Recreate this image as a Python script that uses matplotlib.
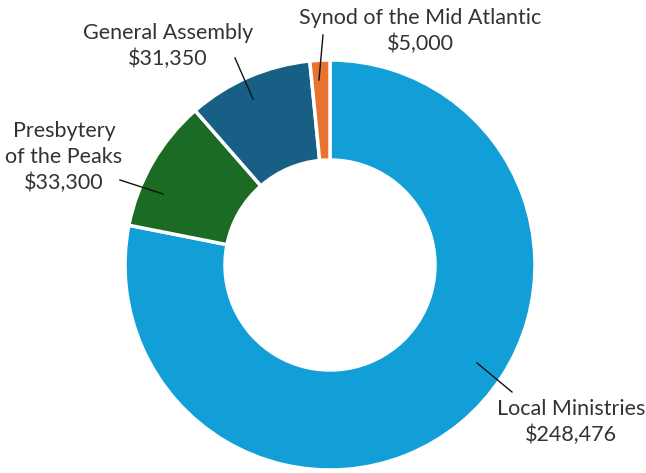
import matplotlib.pyplot as plt

# donation data
categories = ['Local Ministries', 'Presbytery\nof the Peaks', 'General Assembly', 'Synod of the Mid Atlantic']
amounts = [248476, 33300, 31350, 5000]
colors = ['#129fd7', '#1c6b25', '#175f85', '#e8722f']

plt.rcParams['font.family'] = ['Lato', 'DejaVu Sans']

fig = plt.figure(figsize=(6.46, 4.73), dpi=100)
ax = fig.add_axes([0, 0, 1, 1])

cx, cy, r = 330, 473 - 265, 205
ax.pie(amounts, colors=colors, startangle=90, counterclock=False,
       center=(cx, cy), radius=r, frame=True,
       wedgeprops=dict(width=100, edgecolor='white', linewidth=2.5))
ax.set_xlim(0, 646)
ax.set_ylim(0, 473)
ax.set_aspect('equal')
ax.axis('off')

# label positions (text centre) and leader lines, in pixel coords (y down)
label_pos = [(571, 422), (64, 157), (168, 46), (420, 31)]
lines = [((477, 363), (512, 392)),
         ((120, 180), (163, 194)),
         ((235, 58), (253, 99)),
         ((323, 35), (319, 80))]

for name, val, (tx, ty), (p0, p1) in zip(categories, amounts, label_pos, lines):
    ax.text(tx, 473 - ty, name + '\n' + '${:,}'.format(val), ha='center', va='center',
            fontsize=15.5, color='#333333', linespacing=1.35)
    ax.plot([p0[0], p1[0]], [473 - p0[1], 473 - p1[1]], color='#111111', lw=1)

fig.savefig('out.png', dpi=100)
